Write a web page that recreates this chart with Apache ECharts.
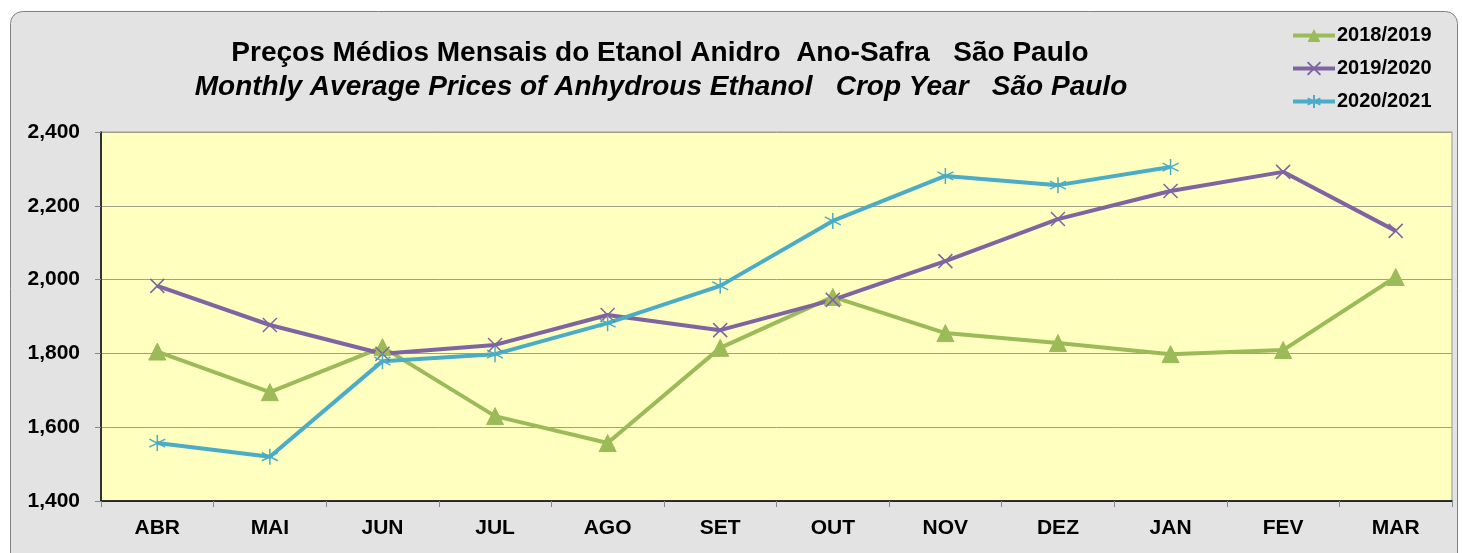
<!DOCTYPE html>
<html>
<head>
<meta charset="utf-8">
<script src="https://cdn.jsdelivr.net/npm/echarts@6/dist/echarts.min.js"></script>
<style>
  html, body { margin: 0; padding: 0; background: #ffffff; }
  #chart { width: 1462px; height: 553px; }
</style>
</head>
<body>
<div id="chart"></div>
<script>
// meses do ano-safra (abril a março)
const months = ['ABR', 'MAI', 'JUN', 'JUL', 'AGO', 'SET', 'OUT', 'NOV', 'DEZ', 'JAN', 'FEV', 'MAR']
const seriesNames = ['2018/2019', '2019/2020', '2020/2021']

// valores
const prices1819 = [1805, 1695, 1817, 1630, 1557, 1815, 1953, 1855, 1828, 1798, 1809, 2007]
const prices1920 = [1983, 1877, 1799, 1823, 1904, 1863, 1945, 2050, 2164, 2240, 2292, 2132]
const prices2021 = [1557, 1520, 1779, 1798, 1882, 1983, 2159, 2281, 2256, 2305, null, null]

const yTicks = [1400, 1600, 1800, 2000, 2200, 2400]

const colors = ['#9bbb59', '#8064a2', '#4bacc6']
const fontFamily = '"Liberation Sans", Arial, sans-serif'

// asterisco para a série 2020/2021
const starPath = 'path://M0,-1L0,1M-0.866,-0.5L0.866,0.5M-0.866,0.5L0.866,-0.5'
const crossPath = 'path://M-1,-1L1,1M-1,1L1,-1'

const chart = echarts.init(document.getElementById('chart'))

const makeSeries = (name, data, color, symbol, size, stroked) => ({
  name,
  type: 'line',
  data,
  symbol,
  symbolSize: size,
  showSymbol: true,
  lineStyle: { color, width: 4 },
  itemStyle: stroked
    ? { color: 'transparent', borderColor: color, borderWidth: 1.5 }
    : { color, borderColor: color },
  emphasis: { disabled: true },
  animation: false,
  z: 3
})

chart.setOption({
  backgroundColor: '#ffffff',
  textStyle: { fontFamily },
  graphic: [
    {
      type: 'rect',
      z: -10,
      shape: { x: 10.5, y: 11.5, width: 1447, height: 560, r: 12 },
      style: { fill: '#e3e3e3', stroke: '#808080', lineWidth: 1 }
    }
  ],
  title: [
    {
      text: 'Preços Médios Mensais do Etanol Anidro  Ano-Safra   São Paulo',
      left: 655,
      top: 34,
      textAlign: 'center',
      textStyle: { fontFamily, fontSize: 28, fontWeight: 'bold', color: '#000' }
    },
    {
      text: 'Monthly Average Prices of Anhydrous Ethanol   Crop Year   São Paulo',
      left: 656,
      top: 68,
      textAlign: 'center',
      textStyle: { fontFamily, fontSize: 28, fontWeight: 'bold', fontStyle: 'italic', color: '#000' }
    }
  ],
  legend: {
    data: seriesNames,
    orient: 'vertical',
    left: 1286,
    top: 20,
    itemWidth: 42,
    itemHeight: 16,
    itemGap: 12,
    lineStyle: { width: 4 },
    textStyle: {
      fontFamily, fontSize: 20, lineHeight: 21, fontWeight: 'bold', color: '#000',
      padding: [0, 0, 0, -3]
    }
  },
  grid: {
    left: 101,
    right: 10,
    top: 132,
    bottom: 52,
    show: true,
    backgroundColor: '#ffffc0',
    borderColor: '#999999',
    borderWidth: 1
  },
  xAxis: {
    type: 'category',
    data: months,
    boundaryGap: true,
    axisLine: { lineStyle: { color: '#000', width: 1.5 } },
    axisTick: { show: true, length: 6, lineStyle: { color: '#888' } },
    axisLabel: { fontFamily, fontSize: 21, fontWeight: 'bold', color: '#000', margin: 17 },
    splitLine: { show: false }
  },
  yAxis: {
    type: 'value',
    min: yTicks[0],
    max: yTicks[yTicks.length - 1],
    interval: 200,
    axisLine: { show: true, lineStyle: { color: '#000', width: 1.5 } },
    axisTick: { show: true, length: 6, lineStyle: { color: '#888' } },
    axisLabel: {
      fontFamily, fontSize: 21, fontWeight: 'bold', color: '#000', margin: 21,
      formatter: v => v.toLocaleString('en-US')
    },
    splitLine: { show: true, lineStyle: { color: '#a09f88', width: 1 } }
  },
  series: [
    makeSeries(seriesNames[0], prices1819, colors[0], 'triangle', 17, false),
    makeSeries(seriesNames[1], prices1920, colors[1], crossPath, 14, true),
    makeSeries(seriesNames[2], prices2021, colors[2], starPath, 16, true)
  ]
})
</script>
</body>
</html>
